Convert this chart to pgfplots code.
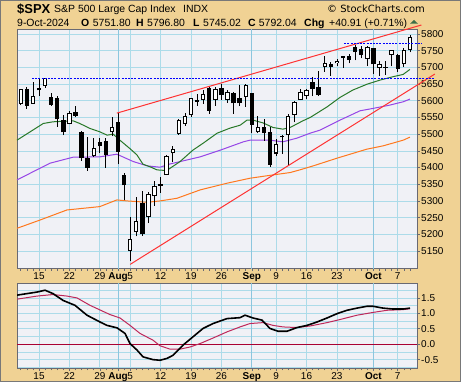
\documentclass[border=0pt]{standalone}
\usepackage{fontspec}
\setmainfont{Liberation Sans}
\newfontfamily\dejavu{DejaVu Sans}
\usepackage{pgfplots}
\pgfplotsset{compat=1.18}
\usepackage{pgfplotstable}

\definecolor{tanbg}{RGB}{240,210,148}
\definecolor{panelbg}{RGB}{240,241,246}
\definecolor{gridblue}{RGB}{172,219,233}
\definecolor{monthgrid}{RGB}{140,198,222}
\definecolor{framegray}{RGB}{105,105,115}
\definecolor{outergray}{RGB}{120,120,120}
\definecolor{ma20}{RGB}{40,120,40}
\definecolor{ma50}{RGB}{150,70,230}
\definecolor{ma200}{RGB}{255,120,30}
\definecolor{trendred}{RGB}{255,50,50}
\definecolor{dashblue}{RGB}{0,0,255}
\definecolor{sigcol}{RGB}{190,40,90}
\definecolor{zerocol}{RGB}{170,0,50}
\definecolor{trigreen}{RGB}{60,110,70}

% i = trading-day index (0 = 15 Jul 2024)
\pgfplotstableread{
i O H L C
-3 5591.26 5635.39 5586.44 5633.91
-2 5635.21 5642.45 5576.53 5584.54
-1 5590.76 5655.56 5590.44 5615.35
0 5638.16 5666.94 5614.75 5631.22
1 5644.09 5669.67 5639.02 5667.20
2 5610.07 5622.49 5584.81 5588.27
3 5608.56 5614.05 5522.81 5544.59
4 5543.37 5557.50 5497.04 5505.00
5 5530.30 5570.36 5529.04 5564.41
6 5565.30 5585.34 5550.90 5555.74
7 5505.84 5508.04 5419.98 5427.13
8 5428.70 5491.59 5390.95 5399.22
9 5433.67 5488.32 5430.70 5459.10
10 5476.55 5487.74 5444.44 5463.54
11 5478.73 5489.46 5398.76 5436.44
12 5505.59 5551.51 5493.75 5522.30
13 5537.84 5566.16 5410.42 5446.68
14 5376.63 5383.89 5302.03 5346.56
15 5151.14 5250.89 5119.26 5186.33
16 5206.42 5312.34 5193.56 5240.03
17 5293.13 5330.64 5195.54 5199.50
18 5252.57 5328.03 5233.85 5319.31
19 5314.67 5358.59 5285.91 5344.16
20 5351.88 5371.20 5324.37 5344.39
21 5376.98 5436.50 5376.98 5434.43
22 5442.53 5463.22 5415.40 5455.21
23 5501.13 5546.23 5498.29 5543.22
24 5530.50 5561.98 5525.17 5554.25
25 5557.23 5608.30 5550.74 5608.25
26 5602.88 5620.51 5585.50 5597.12
27 5603.09 5632.68 5591.57 5620.85
28 5637.77 5643.22 5560.95 5570.64
29 5602.89 5641.82 5585.16 5634.61
30 5639.66 5651.62 5602.34 5616.84
31 5602.54 5631.18 5593.48 5625.80
32 5624.51 5627.03 5560.95 5592.18
33 5607.30 5646.95 5583.71 5591.96
34 5612.74 5651.37 5581.79 5648.40
35 5623.89 5623.89 5504.33 5528.93
36 5506.68 5552.99 5503.41 5520.07
37 5520.08 5546.30 5480.01 5503.41
38 5507.33 5522.47 5402.62 5408.42
39 5442.07 5484.20 5434.49 5471.05
40 5490.51 5497.91 5441.72 5495.52
41 5496.42 5560.41 5406.96 5554.13
42 5557.48 5600.71 5535.50 5595.76
43 5603.34 5636.27 5601.65 5626.02
44 5615.21 5636.05 5604.53 5633.09
45 5655.51 5670.81 5614.05 5634.58
46 5641.68 5689.75 5615.08 5618.26
47 5702.63 5733.57 5686.42 5713.64
48 5709.29 5715.14 5674.49 5702.55
49 5711.90 5725.36 5704.94 5718.57
50 5727.82 5735.32 5698.99 5732.93
51 5733.65 5741.03 5712.06 5722.26
52 5762.22 5767.37 5721.01 5745.37
53 5755.36 5763.78 5727.34 5738.17
54 5726.52 5765.14 5703.53 5762.48
55 5757.73 5757.73 5681.28 5708.75
56 5698.19 5719.14 5674.00 5709.54
57 5698.93 5718.78 5677.70 5699.94
58 5737.80 5753.43 5702.83 5751.07
59 5737.80 5739.34 5686.85 5695.94
60 5709.88 5757.60 5701.07 5751.13
61 5751.80 5796.80 5745.02 5792.04
}\ohlc

\pgfplotsset{
  chartstyle/.style={
    scale only axis, width=400bp,
    xmin=-3.62, xmax=62.17,
    axis background/.style={fill=panelbg},
    axis line style={draw=framegray, line width=0.9bp},
    xtick={0,5,10,15,20,25,30,39,44,49,59},
    xticklabels={15,22,29,5,12,19,26,9,16,23,7},
    extra x ticks={13,35,55},
    extra x tick labels={\textbf{Aug},\textbf{Sep},\textbf{Oct}},
    extra x tick style={grid=major, major grid style={draw=monthgrid, line width=0.8bp}},
    minor xtick={-3,-2,...,61},
    xmajorgrids,
    grid style={draw=gridblue, line width=0.7bp},
    major grid style={draw=gridblue, line width=0.7bp},
    minor grid style={draw=gridblue, line width=0.7bp},
    tick align=outside,
    major tick length=2.5bp, minor tick length=2bp,
    every tick/.style={draw=framegray, line width=0.6bp},
    xtick pos=left, ytick pos=right, yticklabel pos=right,
    every tick label/.append style={font=\fontsize{10}{12}\selectfont},
    xticklabel style={inner sep=1bp, yshift=-0.5bp},
    yticklabel style={inner sep=1.5bp},
    /pgf/number format/assume math mode=true,
    /pgf/number format/1000 sep={},
  }
}

\begin{document}
\begin{tikzpicture}[x=1bp,y=1bp]
\useasboundingbox (0,0) rectangle (463,384);
\fill[white] (0,0) rectangle (463,384);
\filldraw[fill=tanbg, draw=outergray, line width=1bp] (0.5,2.5) rectangle (460.5,383.5);

% header line 1
\node[anchor=base west, inner sep=0, font=\fontsize{13}{15}\selectfont\bfseries] at (17,370.7) {\$SPX};
\node[anchor=base west, inner sep=0, font=\fontsize{10.5}{13}\selectfont] at (54,371.3) {S\&P 500 Large Cap Index};
\node[anchor=base west, inner sep=0, font=\fontsize{10.5}{13}\selectfont] at (183,371.3) {INDX};
\node[anchor=base west, inner sep=0, font=\dejavu\fontsize{10}{12}\selectfont] at (327,371.3) {© StockCharts.com};
% header line 2
\begin{scope}[every node/.style={anchor=base west, inner sep=0, font=\fontsize{10.5}{12}\selectfont}]
\node at (17,357.3) {9-Oct-2024};
\node at (81,357.3) {\textbf{O}};
\node at (92.7,357.3) {5751.80};
\node at (136,357.3) {\textbf{H}};
\node at (147,357.3) {5796.80};
\node at (193,357.3) {\textbf{L}};
\node at (203,357.3) {5745.02};
\node at (248,357.3) {\textbf{C}};
\node at (258.7,357.3) {5792.04};
\node at (304,357.3) {\textbf{Chg}};
\node at (329,357.3) {+40.91 (+0.71\%)};
\end{scope}
\fill[trigreen] (410,360.3) -- (418,360.3) -- (414,364) -- cycle;

% ===== main price panel =====
\begin{axis}[chartstyle,
  at={(17bp,115.5bp)}, anchor=south west, height=239.5bp,
  ymin=5097.6, ymax=5815,
  ytick={5150,5200,...,5800}, ymajorgrids,
  clip=false]
% moving averages
\addplot[ma200, line width=1bp] coordinates {(-3.62,5218) (0.2,5243) (4.6,5273) (10,5283) (12.8,5303) (14.5,5300) (17.8,5296) (19.9,5300) (22.7,5308) (26.5,5333) (30.9,5353) (34.7,5368) (38.5,5378) (41.3,5385) (42.9,5393) (45.1,5405) (49,5428) (53.9,5455) (56.6,5465) (59.9,5482) (61,5491)};
\addplot[ma50, line width=1bp] coordinates {(-3.62,5363) (1.8,5413) (5.6,5431) (10,5432) (12.8,5440) (15.5,5418) (17.8,5405) (19.9,5401) (21.4,5410) (23.7,5420) (26.5,5432) (29.8,5452) (33.6,5477) (34.7,5482) (38,5482) (40.1,5477) (42.4,5488) (44.6,5503) (46.2,5512) (49.5,5542) (52.8,5570) (54.9,5577) (57.7,5587) (59.9,5597) (61,5605)};
\addplot[ma20, line width=1bp] coordinates {(-3.62,5482) (0.7,5532) (2.3,5537) (5.6,5540) (6.7,5532) (8.4,5517) (10,5507) (11.2,5497) (12.2,5500) (13.3,5482) (15,5456) (16.1,5438) (17.1,5410) (18.3,5402) (19.4,5393) (21,5391) (23.2,5418) (25.3,5452) (27,5473) (29.3,5503) (31.4,5518) (33.1,5527) (34.2,5542) (35.2,5542) (36.8,5534) (38.5,5520) (40.1,5515) (41.3,5520) (43.4,5540) (44.6,5550) (47.4,5582) (49.5,5610) (51.6,5632) (54,5650) (56.1,5662) (58.2,5672) (59.9,5679) (61,5694)};
% candles: wicks
\addplot[draw=none, mark=none, forget plot,
  error bars/.cd, y dir=plus, y explicit, error mark=none,
  error bar style={draw=black, line width=0.8bp}]
  table[x=i, y=L, y error plus expr={\thisrow{H}-\thisrow{L}}] {\ohlc};
% filled bodies (close below open)
\addplot[draw=none, mark=none, forget plot,
  error bars/.cd, y dir=plus, y explicit, error mark=none,
  error bar style={draw=black, line width=4.4bp}]
  table[x=i, y expr={\thisrow{O}>\thisrow{C} ? \thisrow{C} : nan}, y error plus expr={\thisrow{O}-\thisrow{C}}] {\ohlc};
% hollow bodies (close above open)
\addplot[draw=none, mark=none, forget plot,
  error bars/.cd, y dir=plus, y explicit, error mark=none,
  error bar style={draw=black, line width=4.4bp}]
  table[x=i, y expr={\thisrow{C}>=\thisrow{O} ? \thisrow{O} : nan}, y error plus expr={\thisrow{C}-\thisrow{O}}] {\ohlc};
\addplot[draw=none, mark=none, forget plot,
  error bars/.cd, y dir=plus, y explicit, error mark=none,
  error bar style={draw=white, line width=2.4bp}]
  table[x=i, y expr={\thisrow{C}-\thisrow{O}>6 ? \thisrow{O}+3 : nan}, y error plus expr={\thisrow{C}-\thisrow{O}-6}] {\ohlc};
% trend lines and levels
\addplot[trendred, line width=1bp] coordinates {(12.8,5563) (62.9,5827)};
\addplot[trendred, line width=1bp] coordinates {(15,5110) (65.1,5680)};
\addplot[dashblue, line width=0.9bp, dash pattern=on 2bp off 1.2bp] coordinates {(-1.15,5668) (65.1,5668)};
\addplot[dashblue, line width=0.9bp, dash pattern=on 2bp off 1.2bp] coordinates {(50.2,5771) (62.9,5771)};
\end{axis}

% ===== lower indicator panel =====
\begin{axis}[chartstyle,
  at={(17bp,15.7bp)}, anchor=south west, height=85bp,
  ymin=-0.781, ymax=1.974,
  ytick={-0.5,0,0.5,1,1.5},
  yticklabels={-0.5,0.0,0.5,1.0,1.5},
  minor ytick={-0.75,-0.25,0.25,0.75,1.25,1.75},
  ymajorgrids, yminorgrids,
  minor y tick style={draw=none}]
\addplot[zerocol, line width=1bp] coordinates {(-3.62,0) (62.17,0)};
\addplot[sigcol, line width=1bp] coordinates {(-3.62,1.46) (-0.33,1.56) (2.3,1.61) (4.6,1.56) (6.25,1.5) (8.39,1.26) (11.68,0.96) (13.32,0.85) (14.97,0.61) (16.61,0.35) (18.75,0.13) (19.9,-0.05) (21.55,-0.16) (23.19,-0.16) (24.84,-0.09) (26.48,0.02) (28.62,0.2) (30.92,0.4) (33.06,0.56) (34.7,0.67) (36.84,0.7) (38.49,0.61) (40.13,0.56) (42.43,0.54) (44.57,0.59) (47.37,0.7) (49.51,0.8) (52.3,0.94) (54.93,1.03) (57.24,1.1) (59.87,1.12) (61.02,1.15)};
\addplot[black, line width=1.6bp] coordinates {(-3.62,1.59) (-0.33,1.69) (0.99,1.75) (2.3,1.64) (3.95,1.42) (5.92,1.26) (7.89,0.94) (10.03,0.72) (11.18,0.61) (12.83,0.53) (14.14,0.35) (14.97,0.02) (16.12,-0.19) (17.11,-0.41) (18.75,-0.5) (19.9,-0.52) (21.05,-0.46) (22.04,-0.36) (23.68,-0.03) (25.33,0.24) (26.97,0.51) (28.62,0.67) (30.92,0.83) (33.06,0.86) (33.88,0.94) (35.2,0.85) (36.68,0.78) (37.99,0.51) (39.31,0.42) (40.79,0.42) (42.43,0.54) (44.08,0.61) (45.72,0.72) (47.37,0.85) (49.01,0.99) (50.66,1.1) (52.3,1.17) (53.95,1.23) (54.93,1.23) (56.58,1.17) (58.22,1.14) (59.87,1.14) (61.02,1.17)};
\end{axis}
\end{tikzpicture}
\end{document}
